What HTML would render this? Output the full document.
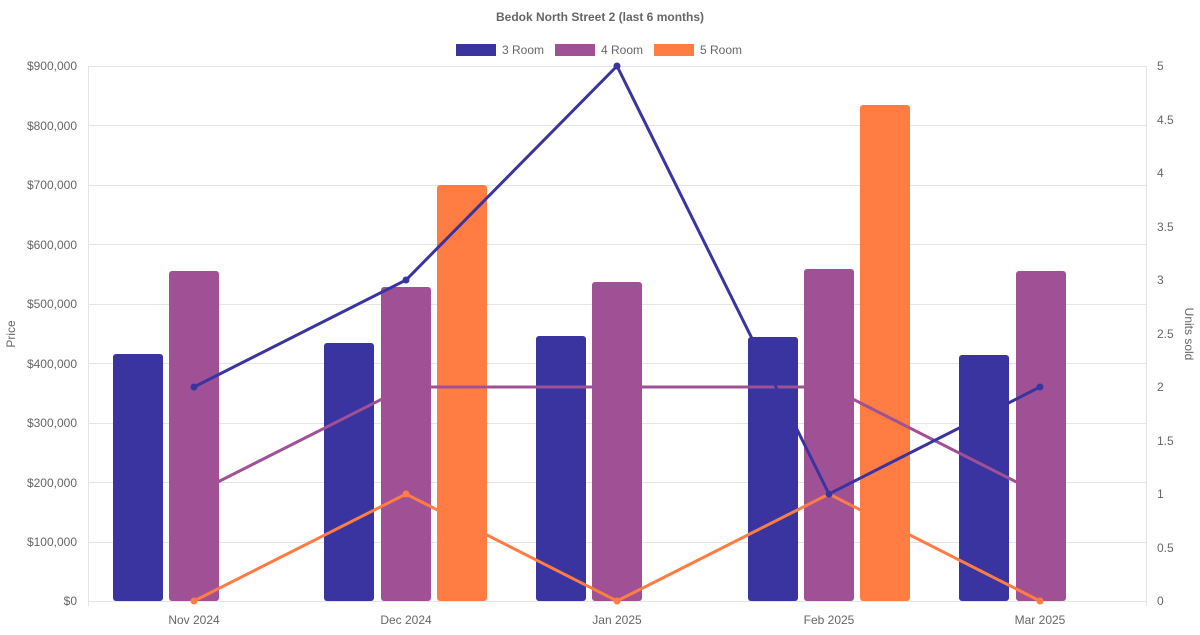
<!DOCTYPE html>
<html><head><meta charset="utf-8"><style>
html,body{margin:0;padding:0;background:#fff}
svg text{font-family:"Liberation Sans",sans-serif;fill:#666;font-size:12px}
</style></head><body>
<svg width="1200" height="630" xmlns="http://www.w3.org/2000/svg">
<text x="600" y="21" text-anchor="middle" font-weight="bold">Bedok North Street 2 (last 6 months)</text>
<rect x="456" y="44" width="40" height="12" fill="#3a34a0"/><text x="502" y="54">3 Room</text>
<rect x="555" y="44" width="40" height="12" fill="#a05195"/><text x="601" y="54">4 Room</text>
<rect x="654" y="44" width="40" height="12" fill="#ff7c43"/><text x="700" y="54">5 Room</text>
<g stroke="#e5e5e5" stroke-width="1">
<line x1="88" y1="66.5" x2="1146" y2="66.5"/><line x1="88" y1="125.5" x2="1146" y2="125.5"/>
<line x1="88" y1="185.5" x2="1146" y2="185.5"/><line x1="88" y1="244.5" x2="1146" y2="244.5"/>
<line x1="88" y1="304.5" x2="1146" y2="304.5"/><line x1="88" y1="363.5" x2="1146" y2="363.5"/>
<line x1="88" y1="423.5" x2="1146" y2="423.5"/><line x1="88" y1="482.5" x2="1146" y2="482.5"/>
<line x1="88" y1="542.5" x2="1146" y2="542.5"/><line x1="88" y1="601.5" x2="1146" y2="601.5"/>
<line x1="88.5" y1="66" x2="88.5" y2="606"/><line x1="1146.5" y1="66" x2="1146.5" y2="606"/>
</g>
<g text-anchor="end">
<text x="77" y="70">$900,000</text><text x="77" y="130">$800,000</text><text x="77" y="189">$700,000</text>
<text x="77" y="249">$600,000</text><text x="77" y="308">$500,000</text><text x="77" y="368">$400,000</text>
<text x="77" y="427">$300,000</text><text x="77" y="487">$200,000</text><text x="77" y="546">$100,000</text>
<text x="77" y="605">$0</text></g>
<g><text x="1157" y="70">5</text><text x="1157" y="124">4.5</text><text x="1157" y="177">4</text>
<text x="1157" y="231">3.5</text><text x="1157" y="284">3</text><text x="1157" y="338">2.5</text>
<text x="1157" y="391">2</text><text x="1157" y="445">1.5</text><text x="1157" y="498">1</text>
<text x="1157" y="552">0.5</text><text x="1157" y="605">0</text></g>
<g text-anchor="middle"><text x="194" y="624">Nov 2024</text><text x="406" y="624">Dec 2024</text>
<text x="617" y="624">Jan 2025</text><text x="829" y="624">Feb 2025</text><text x="1040" y="624">Mar 2025</text></g>
<text transform="translate(15,334) rotate(-90)" text-anchor="middle">Price</text>
<text transform="translate(1185,334) rotate(90)" text-anchor="middle">Units sold</text>
<g fill="#3a34a0">
<rect x="113" y="354" width="50" height="247" rx="3"/><rect x="324" y="343" width="50" height="258" rx="3"/>
<rect x="536" y="336" width="50" height="265" rx="3"/><rect x="748" y="337" width="50" height="264" rx="3"/>
<rect x="959" y="355" width="50" height="246" rx="3"/></g>
<g fill="#a05195">
<rect x="169" y="271" width="50" height="330" rx="3"/><rect x="381" y="287" width="50" height="314" rx="3"/>
<rect x="592" y="282" width="50" height="319" rx="3"/><rect x="804" y="269" width="50" height="332" rx="3"/>
<rect x="1016" y="271" width="50" height="330" rx="3"/></g>
<g fill="#ff7c43">
<rect x="437" y="185" width="50" height="416" rx="3"/><rect x="860" y="105" width="50" height="496" rx="3"/></g>
<polyline points="194,494 406,387 617,387 829,387 1040,494" fill="none" stroke="#a05195" stroke-width="3"/>
<polyline points="194,601 406,494 617,601 829,494 1040,601" fill="none" stroke="#ff7c43" stroke-width="3"/>
<polyline points="194,387 406,280 617,66 829,494 1040,387" fill="none" stroke="#3a34a0" stroke-width="3"/>
<g fill="#ff7c43"><circle cx="194" cy="601" r="3.5"/><circle cx="406" cy="494" r="3.5"/><circle cx="617" cy="601" r="3.5"/><circle cx="829" cy="494" r="3.5"/><circle cx="1040" cy="601" r="3.5"/></g>
<g fill="#3a34a0"><circle cx="194" cy="387" r="3.5"/><circle cx="406" cy="280" r="3.5"/><circle cx="617" cy="66" r="3.5"/><circle cx="829" cy="494" r="3.5"/><circle cx="1040" cy="387" r="3.5"/></g>
</svg>
</body></html>
